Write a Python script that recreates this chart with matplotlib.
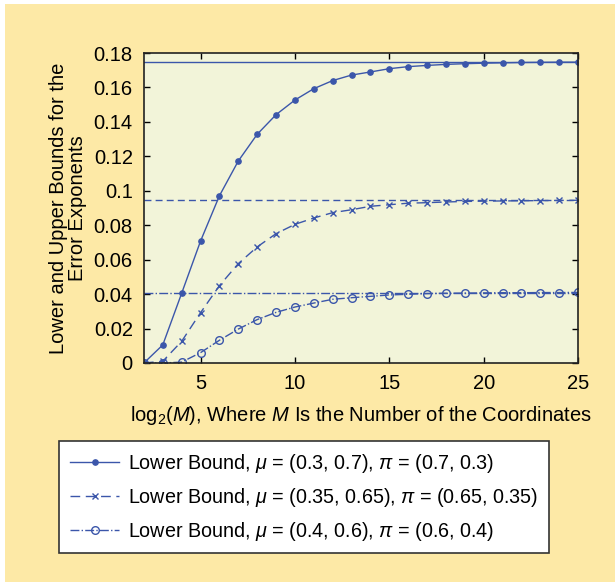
import numpy as np
import matplotlib
matplotlib.use("Agg")
import matplotlib.pyplot as plt
from matplotlib.patches import Rectangle
from matplotlib.ticker import FuncFormatter

plt.rcParams['font.family'] = ['Liberation Sans', 'DejaVu Sans']
plt.rcParams['mathtext.fontset'] = 'custom'
plt.rcParams['mathtext.rm'] = 'Liberation Sans'
plt.rcParams['mathtext.it'] = 'Liberation Sans:italic'
plt.rcParams['mathtext.bf'] = 'Liberation Sans:bold'

# log2(M)
x = list(range(2, 26))

lower_1 = [0, 0.0105, 0.0405, 0.0708, 0.0971, 0.1173, 0.1328, 0.1442, 0.1527,
           0.1593, 0.1640, 0.1672, 0.1690, 0.1709, 0.1721, 0.1728, 0.1734,
           0.1738, 0.1741, 0.1743, 0.1745, 0.1746, 0.1747, 0.1747]
lower_2 = [0, 0.001, 0.0126, 0.0292, 0.0449, 0.0577, 0.0674, 0.0751, 0.0805,
           0.0842, 0.0873, 0.0890, 0.0910, 0.0919, 0.0928, 0.0931, 0.0935,
           0.0938, 0.0940, 0.0941, 0.0942, 0.0943, 0.0944, 0.0945]
lower_3 = [0, 0, 0.0005, 0.0060, 0.0132, 0.0197, 0.0252, 0.0294, 0.0325,
           0.0348, 0.0370, 0.0379, 0.0387, 0.0395, 0.0399, 0.0403, 0.0405,
           0.0406, 0.0407, 0.0408, 0.0408, 0.0409, 0.0409, 0.0410]
upper = [0.1748, 0.0947, 0.0408]

labels = [r'Lower Bound, $\mu$ = (0.3, 0.7), $\pi$ = (0.7, 0.3)',
          r'Lower Bound, $\mu$ = (0.35, 0.65), $\pi$ = (0.65, 0.35)',
          r'Lower Bound, $\mu$ = (0.4, 0.6), $\pi$ = (0.6, 0.4)']

blue = '#3b56aa'
fs = 14.5
fig = plt.figure(figsize=(6.15, 5.82), dpi=100, facecolor='white')
fig.patches.append(Rectangle((5 / 615, 0), 1, 1 - 4 / 582, transform=fig.transFigure,
                             facecolor='#fde9a6', edgecolor='none', zorder=-10))

ax = fig.add_axes([0.234, 0.3763, 0.706, 0.5326])
ax.set_facecolor('#f2f4d9')

l1, = ax.plot(x, lower_1, '-', color=blue, lw=1.0, marker='o', ms=3.8)
l2, = ax.plot(x, lower_2, color=blue, lw=1.0, marker='x', ms=4.2,
              dashes=(7, 4), mew=1.0)
l3, = ax.plot(x, lower_3, '-.', color=blue, lw=1.0, marker='o', ms=5.5,
              mfc='none', mew=1.0)
ax.axhline(upper[0], color=blue, lw=1.0, ls='-')
ax.axhline(upper[1], color=blue, lw=1.0, dashes=(5, 3))
ax.axhline(upper[2], color=blue, lw=1.0, ls='-.')

ax.set_xlim(2, 25)
ax.set_ylim(0, 0.18)
ax.set_xticks([5, 10, 15, 20, 25])
ax.set_yticks(np.arange(0, 0.181, 0.02))
ax.yaxis.set_major_formatter(FuncFormatter(lambda v, p: '%g' % round(v, 2)))
ax.tick_params(direction='in', top=True, right=True, length=4, width=1,
               labelsize=fs, pad=8)
for s in ax.spines.values():
    s.set_linewidth(1.2)
    s.set_color('#222222')

ax.set_xlabel(r'log$_2$($M$), Where $M$ Is the Number of the Coordinates',
              fontsize=fs, labelpad=8)
ax.set_ylabel('Lower and Upper Bounds for the\nError Exponents', fontsize=fs,
              labelpad=5, linespacing=1.0)

leg = fig.legend([l1, l2, l3], labels, loc='upper left',
                 bbox_to_anchor=(59 / 615, 1 - 441 / 582), fontsize=14.2,
                 frameon=True, fancybox=False, numpoints=1, handlelength=2.5,
                 borderpad=0.55, labelspacing=0.55, handletextpad=0.45,
                 borderaxespad=0)
leg.get_frame().set_edgecolor('#333333')
leg.get_frame().set_linewidth(1.2)
leg.get_frame().set_facecolor('white')
leg.get_frame().set_alpha(1)

fig.savefig('out.png', dpi=100, facecolor=fig.get_facecolor())
